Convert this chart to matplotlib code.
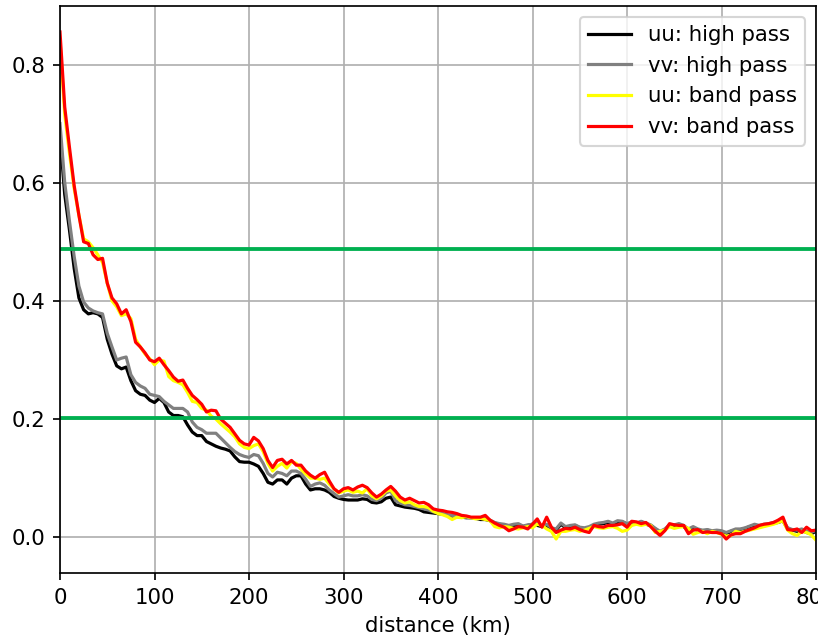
import matplotlib
matplotlib.use("Agg")
import matplotlib.pyplot as plt
import numpy as np

# distance in km, one sample every 5 km
dist = np.arange(0, 801, 5)

# uu: high pass
uu_hp = [0.68, 0.58, 0.52, 0.455, 0.405, 0.385, 0.378, 0.380, 0.378, 0.372,
         0.335, 0.31, 0.29, 0.285, 0.288, 0.265, 0.248, 0.242, 0.240, 0.232,
         0.228, 0.235, 0.228, 0.212, 0.206, 0.206, 0.204, 0.190, 0.178, 0.172,
         0.172, 0.162, 0.158, 0.154, 0.151, 0.149, 0.146, 0.136, 0.128, 0.127,
         0.127, 0.124, 0.120, 0.108, 0.093, 0.090, 0.097, 0.097, 0.090, 0.100,
         0.104, 0.104, 0.090, 0.080, 0.082, 0.082, 0.080, 0.076, 0.069, 0.066,
         0.064, 0.063, 0.063, 0.063, 0.065, 0.064, 0.059, 0.058, 0.060, 0.066,
         0.068, 0.055, 0.053, 0.051, 0.050, 0.049, 0.047, 0.043, 0.042, 0.041,
         0.040, 0.039, 0.037, 0.036, 0.035, 0.034, 0.033, 0.033, 0.032, 0.030,
         0.030, 0.028, 0.024, 0.022, 0.020, 0.018, 0.020, 0.021, 0.018, 0.020,
         0.022, 0.020, 0.018, 0.020, 0.015, 0.012, 0.022, 0.016, 0.018, 0.020,
         0.016, 0.014, 0.016, 0.020, 0.022, 0.023, 0.025, 0.022, 0.024, 0.026,
         0.022, 0.025, 0.023, 0.026, 0.022, 0.020, 0.014, 0.008, 0.012, 0.020,
         0.020, 0.022, 0.018, 0.012, 0.016, 0.012, 0.010, 0.012, 0.010, 0.011,
         0.010, 0.006, 0.010, 0.012, 0.013, 0.015, 0.018, 0.020, 0.018, 0.020,
         0.022, 0.024, 0.025, 0.028, 0.014, 0.012, 0.010, 0.012, 0.008, 0.006,
         0.010]

# vv: high pass
vv_hp = [0.70, 0.60, 0.535, 0.475, 0.425, 0.398, 0.388, 0.383, 0.380, 0.378,
         0.345, 0.322, 0.300, 0.303, 0.305, 0.275, 0.262, 0.256, 0.252, 0.242,
         0.240, 0.238, 0.230, 0.224, 0.218, 0.218, 0.218, 0.212, 0.195, 0.186,
         0.182, 0.176, 0.176, 0.176, 0.168, 0.160, 0.152, 0.145, 0.140, 0.137,
         0.135, 0.140, 0.138, 0.125, 0.108, 0.102, 0.110, 0.108, 0.104, 0.112,
         0.112, 0.108, 0.098, 0.086, 0.090, 0.092, 0.088, 0.080, 0.074, 0.068,
         0.070, 0.072, 0.070, 0.070, 0.072, 0.070, 0.064, 0.062, 0.066, 0.075,
         0.078, 0.062, 0.058, 0.055, 0.054, 0.052, 0.050, 0.048, 0.046, 0.043,
         0.042, 0.040, 0.038, 0.037, 0.036, 0.036, 0.034, 0.033, 0.033, 0.032,
         0.032, 0.029, 0.025, 0.023, 0.022, 0.020, 0.022, 0.023, 0.019, 0.021,
         0.022, 0.024, 0.019, 0.022, 0.016, 0.014, 0.024, 0.018, 0.020, 0.021,
         0.017, 0.016, 0.018, 0.022, 0.024, 0.025, 0.027, 0.024, 0.028, 0.027,
         0.023, 0.026, 0.024, 0.027, 0.024, 0.021, 0.015, 0.010, 0.014, 0.021,
         0.021, 0.023, 0.020, 0.014, 0.018, 0.014, 0.012, 0.013, 0.011, 0.012,
         0.011, 0.008, 0.011, 0.014, 0.014, 0.016, 0.019, 0.022, 0.020, 0.022,
         0.023, 0.025, 0.026, 0.029, 0.016, 0.013, 0.012, 0.014, 0.010, 0.008,
         0.012]

# uu: band pass
uu_bp = [0.84, 0.715, 0.65, 0.59, 0.545, 0.505, 0.50, 0.49, 0.478, 0.465,
         0.43, 0.40, 0.39, 0.375, 0.378, 0.37, 0.335, 0.322, 0.31, 0.302,
         0.292, 0.30, 0.298, 0.272, 0.265, 0.262, 0.258, 0.245, 0.230, 0.228,
         0.218, 0.215, 0.205, 0.200, 0.192, 0.185, 0.178, 0.170, 0.158, 0.152,
         0.150, 0.155, 0.158, 0.145, 0.125, 0.112, 0.120, 0.125, 0.117, 0.128,
         0.125, 0.115, 0.107, 0.100, 0.100, 0.098, 0.100, 0.090, 0.082, 0.075,
         0.078, 0.080, 0.076, 0.078, 0.075, 0.082, 0.070, 0.065, 0.070, 0.078,
         0.080, 0.070, 0.062, 0.058, 0.060, 0.055, 0.052, 0.052, 0.050, 0.044,
         0.040, 0.038, 0.035, 0.030, 0.034, 0.033, 0.035, 0.033, 0.031, 0.032,
         0.030, 0.028, 0.018, 0.016, 0.018, 0.017, 0.015, 0.014, 0.016, 0.018,
         0.016, 0.022, 0.020, 0.014, 0.010, -0.003, 0.010, 0.010, 0.012, 0.013,
         0.010, 0.012, 0.015, 0.018, 0.016, 0.015, 0.017, 0.018, 0.015, 0.010,
         0.012, 0.020, 0.022, 0.020, 0.022, 0.020, 0.008, 0.010, 0.012, 0.018,
         0.015, 0.017, 0.018, 0.015, 0.005, 0.008, 0.010, 0.006, 0.010, 0.008,
         0.005, 0.002, 0.003, 0.010, 0.008, 0.010, 0.012, 0.014, 0.016, 0.018,
         0.020, 0.022, 0.025, 0.028, 0.012, 0.006, 0.003, 0.010, 0.008, 0.004,
         -0.005]

# vv: band pass
vv_bp = [0.855, 0.728, 0.66, 0.595, 0.545, 0.500, 0.497, 0.478, 0.470, 0.472,
         0.430, 0.405, 0.395, 0.378, 0.385, 0.365, 0.330, 0.322, 0.312, 0.300,
         0.297, 0.303, 0.292, 0.282, 0.271, 0.264, 0.266, 0.252, 0.240, 0.233,
         0.225, 0.212, 0.215, 0.214, 0.200, 0.193, 0.186, 0.175, 0.164, 0.158,
         0.156, 0.169, 0.163, 0.150, 0.130, 0.118, 0.130, 0.132, 0.124, 0.130,
         0.122, 0.122, 0.112, 0.105, 0.100, 0.106, 0.110, 0.095, 0.082, 0.076,
         0.082, 0.084, 0.080, 0.085, 0.088, 0.084, 0.075, 0.068, 0.073, 0.080,
         0.086, 0.078, 0.068, 0.063, 0.066, 0.062, 0.058, 0.059, 0.055, 0.048,
         0.046, 0.045, 0.043, 0.042, 0.040, 0.037, 0.036, 0.034, 0.034, 0.034,
         0.037, 0.029, 0.024, 0.020, 0.017, 0.011, 0.014, 0.018, 0.017, 0.014,
         0.022, 0.031, 0.017, 0.034, 0.017, 0.008, 0.012, 0.015, 0.014, 0.017,
         0.013, 0.010, 0.008, 0.020, 0.018, 0.017, 0.020, 0.020, 0.021, 0.023,
         0.017, 0.027, 0.026, 0.023, 0.025, 0.018, 0.010, 0.003, 0.011, 0.023,
         0.021, 0.020, 0.020, 0.006, 0.012, 0.013, 0.008, 0.009, 0.008, 0.008,
         0.006, -0.003, 0.004, 0.006, 0.006, 0.010, 0.013, 0.016, 0.020, 0.022,
         0.023, 0.025, 0.029, 0.034, 0.013, 0.012, 0.014, 0.008, 0.017, 0.011,
         0.012]

# horizontal reference levels
levels = [0.488, 0.201]

dpi = 153
fig = plt.figure(figsize=(818 / dpi, 639 / dpi), dpi=dpi)
ax = fig.add_axes([60 / 818, 1 - 572.7 / 639, 756 / 818, 566.7 / 639])

ax.plot(dist, uu_hp, color='black', label='uu: high pass')
ax.plot(dist, vv_hp, color='gray', label='vv: high pass')
ax.plot(dist, uu_bp, color='yellow', label='uu: band pass')
ax.plot(dist, vv_bp, color='red', label='vv: band pass')
for lev in levels:
    ax.axhline(lev, color='#00b050', lw=1.8)

ax.set_xlim(0, 800)
ax.set_ylim(-0.06, 0.899)
ax.grid(True)
ax.legend(loc='upper right')
ax.set_xlabel('distance (km)')

fig.savefig('out.png', dpi=dpi)
